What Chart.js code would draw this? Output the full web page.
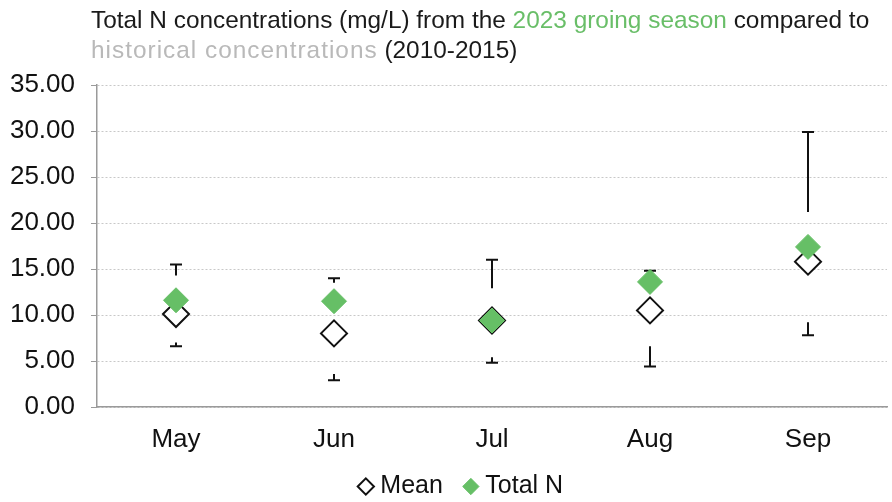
<!DOCTYPE html>
<html>
<head>
<meta charset="utf-8">
<script src="https://cdn.jsdelivr.net/npm/chart.js@4.4.1/dist/chart.umd.min.js"></script>
<style>
  html, body { margin: 0; padding: 0; background: #ffffff; }
  #wrap { position: relative; width: 892px; height: 502px; }
  #title { position: absolute; left: 91px; top: 5px; font-family: "Liberation Sans", Arial, sans-serif; font-size: 24.4px; line-height: 30px; color: #1a1a1a; white-space: nowrap; }
  #title .g { color: #69be68; }
  #title .h { color: #b9b9b9; letter-spacing: 1px; }
  canvas { position: absolute; left: 0; top: 0; }
</style>
</head>
<body>
<div id="wrap">
  <canvas id="c" width="892" height="502"></canvas>
  <div id="title">Total N concentrations (mg/L) from the <span class="g">2023 groing season</span> compared to<br><span class="h">historical concentrations</span> (2010-2015)</div>
</div>
<script>
const categories = ["May", "Jun", "Jul", "Aug", "Sep"];
const meanValues = [10.1, 8.0, 9.4, 10.5, 15.8];
const totalNValues = [11.6, 11.5, 9.4, 13.6, 17.4];
const histMax = [15.5, 14.0, 16.0, 14.8, 29.9];
const histMin = [6.6, 2.9, 4.8, 4.4, 7.8];
const upperBarEnd = [14.3, 13.5, 12.9, 14.5, 21.2];
const lowerBarEnd = [7.0, 3.6, 5.4, 6.6, 9.2];
const yTicks = [0, 5, 10, 15, 20, 25, 30, 35];

const FONT = "'Liberation Sans', Arial, sans-serif";

const errorBars = {
  id: 'errorBars',
  beforeDatasetsDraw(chart) {
    const ctx = chart.ctx;
    const xs = chart.scales.x, ys = chart.scales.y;
    ctx.save();
    ctx.strokeStyle = '#111';
    ctx.lineWidth = 2;
    const cap = 6;
    categories.forEach((c, i) => {
      const x = xs.getPixelForValue(i);
      const yMax = ys.getPixelForValue(histMax[i]);
      const yUp = ys.getPixelForValue(upperBarEnd[i]);
      const yMin = ys.getPixelForValue(histMin[i]);
      const yLo = ys.getPixelForValue(lowerBarEnd[i]);
      ctx.beginPath();
      ctx.moveTo(x, yMax); ctx.lineTo(x, yUp);
      ctx.moveTo(x - cap, yMax); ctx.lineTo(x + cap, yMax);
      ctx.moveTo(x, yMin); ctx.lineTo(x, yLo);
      ctx.moveTo(x - cap, yMin); ctx.lineTo(x + cap, yMin);
      ctx.stroke();
    });
    ctx.restore();
  }
};

const layoutTweaks = {
  id: 'layoutTweaks',
  afterLayout(chart) {
    if (chart.legend) { chart.legend.left += 20; chart.legend.right += 20; }
    const xs = chart.scales.x;
    if (xs) { xs.bottom = xs.top + 70; }
  }
};

new Chart(document.getElementById('c'), {
  type: 'line',
  data: {
    labels: categories,
    datasets: [
      {
        label: 'Mean',
        data: meanValues,
        showLine: false,
        order: 2,
        pointStyle: 'rectRot',
        pointRadius: 13,
        pointHoverRadius: 13,
        backgroundColor: '#ffffff',
        borderColor: '#111111',
        borderWidth: 2
      },
      {
        label: 'Total N',
        data: totalNValues,
        showLine: false,
        order: 1,
        pointStyle: 'rectRot',
        pointRadius: 12.5,
        pointHoverRadius: 12.5,
        backgroundColor: '#66bf66',
        borderColor: '#66bf66',
        borderWidth: 1
      }
    ]
  },
  options: {
    responsive: false,
    animation: false,
    devicePixelRatio: 1,
    layout: { autoPadding: false, padding: { top: 85, right: 5, left: 0, bottom: -7 } },
    plugins: {
      title: { display: false },
      tooltip: { enabled: false },
      legend: {
        position: 'bottom',
        labels: {
          usePointStyle: true,
          boxWidth: 4,
          boxHeight: 11.5,
          padding: 26,
          color: '#111',
          font: { family: FONT, size: 25 },
          sort: (a, b) => a.datasetIndex - b.datasetIndex
        }
      }
    },
    scales: {
      x: {
        offset: true,
        afterFit(scale) { scale.height = 41; },
        grid: { display: false, drawTicks: false },
        border: { display: true, color: '#9a9a9a', width: 1.5 },
        ticks: { color: '#111', font: { family: FONT, size: 26 }, padding: 17 }
      },
      y: {
        min: 0,
        max: 35,
        afterFit(scale) { scale.width = 97; },
        afterBuildTicks(scale) { scale.ticks = yTicks.map(v => ({ value: v })); },
        grid: { color: '#c8c8c8', tickLength: 6, tickColor: '#9a9a9a' },
        border: { display: true, color: '#9a9a9a', width: 1.5, dash: [2, 2] },
        ticks: {
          color: '#111',
          padding: 16,
          font: { family: FONT, size: 26 },
          callback: (v) => Number(v).toFixed(2)
        }
      }
    }
  },
  plugins: [errorBars, layoutTweaks]
});
</script>
</body>
</html>
